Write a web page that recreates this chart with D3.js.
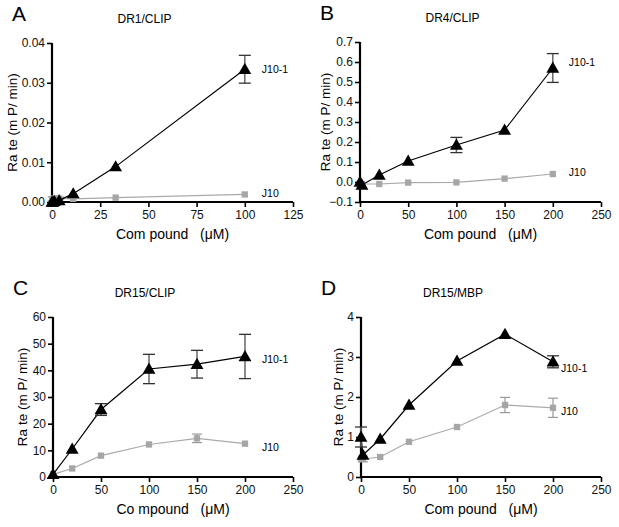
<!DOCTYPE html>
<html><head><meta charset="utf-8">
<script src="https://cdn.jsdelivr.net/npm/d3@7"></script>
<style>body{margin:0;background:#fff}svg{display:block}text{font-family:"Liberation Sans",Arial,sans-serif}</style>
</head><body><svg width="619" height="527"></svg>
<script>
// ---- data ----
const panelLetters = ["A","B","C","D"];
const panelTitles = ["DR1/CLIP","DR4/CLIP","DR15/CLIP","DR15/MBP"];
const xLabels = ["Com pound   (\u03bcM)","Com pound   (\u03bcM)","Co mpound   (\u03bcM)","Com pound   (\u03bcM)"];
const yLabel = "Ra te (m P/ min)";
const seriesNames = ["J10-1","J10"];

const xTicksA = [0,25,50,75,100,125];
const xTicksBCD = [0,50,100,150,200,250];
const yTicksA = [0,0.01,0.02,0.03,0.04];
const yTicksB = [-0.1,0,0.1,0.2,0.3,0.4,0.5,0.6,0.7];
const yTicksC = [0,10,20,30,40,50,60];
const yTicksD = [0,1,2,3,4];

// Panel A
const xA = [0,0.4,1.2,3.7,11,33,100];
const j101A = [0,0,0.0002,0.0004,0.0021,0.0089,0.0334];
const j101A_err = [0,0,0,0,0,0,0.0035];
const j10A = [0.0006,0.0008,0.0009,0.0009,0.0008,0.0011,0.0019];
const j10A_err = [0,0.0005,0,0.0003,0,0,0];

// Panel B
const xB = [0,2,20,50,100,150,200];
const j101B = [0,-0.015,0.035,0.105,0.185,0.26,0.57];
const j101B_err = [0,0,0,0,0.038,0,0.072];
const j10B = [-0.01,-0.01,-0.01,-0.003,-0.002,0.017,0.04];
const j10B_err = [0,0,0,0,0,0,0];

// Panel C
const xC = [0,20,50,100,150,200];
const j101C = [1,10.5,25.3,40.5,42.3,45.2];
const j101C_err = [0,0,2.2,5.5,5.2,8.3];
const j10C = [1,3.2,8,12.2,14.5,12.5];
const j10C_err = [0,0,0,0,1.6,0];

// Panel D
const xD = [0,2,20,50,100,150,200];
const j101D = [1.0,0.55,0.95,1.8,2.9,3.57,2.88];
const j101D_err = [0.25,0,0,0,0,0,0.15];
const j10D = [0.45,0.45,0.5,0.88,1.25,1.8,1.73];
const j10D_err = [0,0.07,0,0,0,0.19,0.24];

const panels = [
  {x:xA, s1:j101A, e1:j101A_err, s2:j10A, e2:j10A_err, xt:xTicksA, yt:yTicksA, xmax:125, yfmt:".2f",
   top:43, bottom:202, left:52, right:293, lab1:[17,0.0333], lab2:[17,0.0022], ylx:12},
  {x:xB, s1:j101B, e1:j101B_err, s2:j10B, e2:j10B_err, xt:xTicksBCD, yt:yTicksB, xmax:250, yfmt:".1f",
   top:42, bottom:202, left:360, right:601, lab1:[16,0.6], lab2:[16,0.05], ylx:325},
  {x:xC, s1:j101C, e1:j101C_err, s2:j10C, e2:j10C_err, xt:xTicksBCD, yt:yTicksC, xmax:250, yfmt:"d",
   top:317, bottom:477, left:53, right:293, lab1:[17,44], lab2:[17,11], ylx:22},
  {x:xD, s1:j101D, e1:j101D_err, s2:j10D, e2:j10D_err, xt:xTicksBCD, yt:yTicksD, xmax:250, yfmt:"d",
   top:317, bottom:477, left:361, right:601, lab1:[8,2.72], lab2:[8,1.65], ylx:338}
];
const yDomains = [[0,0.04],[-0.1,0.7],[0,60],[0,4]];

const svg = d3.select("svg");
const tri = d3.symbol().type(d3.symbolTriangle).size(72);
const sq = d3.symbol().type(d3.symbolSquare).size(40);

panels.forEach((p,i)=>{
  const g = svg.append("g");
  const xs = d3.scaleLinear().domain([0,p.xmax]).range([p.left,p.right]);
  const ys = d3.scaleLinear().domain(yDomains[i]).range([p.bottom,p.top]);

  const xa = g.append("g").attr("transform",`translate(0,${p.bottom})`)
    .call(d3.axisBottom(xs).tickValues(p.xt).tickSize(5).tickPadding(3).tickFormat(d3.format("d")));
  const ya = g.append("g").attr("transform",`translate(${p.left},0)`)
    .call(d3.axisLeft(ys).tickValues(p.yt).tickSize(5).tickPadding(2).tickFormat(d3.format(p.yfmt)));
  [xa,ya].forEach(a=>{
    a.select(".domain").attr("stroke","#000").attr("stroke-width",2.2);
    a.selectAll(".tick line").attr("stroke","#000").attr("stroke-width",1.6);
    a.selectAll(".tick text").attr("font-size",12).attr("fill","#111")
      .attr("font-family",'"Liberation Sans",Arial,sans-serif');
  });
  xa.select(".domain").attr("d",`M${p.left},0H${p.right}`);
  ya.select(".domain").attr("d",`M0,${p.bottom}V${p.top}`);

  g.append("text").attr("x",(p.left-40)).attr("y",p.top-22).attr("font-size",21).text(panelLetters[i]);
  g.append("text").attr("x",(p.left+p.right)/2-28).attr("y",p.top-20).attr("text-anchor","middle")
    .attr("font-size",12).text(panelTitles[i]);
  g.append("text").attr("x",(p.left+p.right)/2).attr("y",p.bottom+37).attr("text-anchor","middle")
    .attr("font-size",14).attr("xml:space","preserve").style("white-space","pre").text(xLabels[i]);
  g.append("text").attr("transform",`translate(${p.ylx},${(p.top+p.bottom)/2}) rotate(-90)`)
    .attr("text-anchor","middle").attr("dy","0.35em").attr("font-size",13.5).text(yLabel);

  const line = d3.line().x((d,j)=>xs(p.x[j])).y(d=>ys(d));
  const gs2 = g.append("g");
  gs2.append("path").attr("d",line(p.s2)).attr("fill","none").attr("stroke","#aaa").attr("stroke-width",1.2);
  p.s2.forEach((v,j)=>{
    const e=p.e2[j];
    if(e>0){
      const cx=xs(p.x[j]);
      gs2.append("line").attr("x1",cx).attr("x2",cx).attr("y1",ys(v-e)).attr("y2",ys(v+e)).attr("stroke","#999").attr("stroke-width",1.2);
      [v-e,v+e].forEach(w=>gs2.append("line").attr("x1",cx-5).attr("x2",cx+5).attr("y1",ys(w)).attr("y2",ys(w)).attr("stroke","#999").attr("stroke-width",1.2));
    }
  });
  gs2.selectAll("path.m").data(p.s2).join("path").attr("class","m")
    .attr("d",sq).attr("transform",(d,j)=>`translate(${xs(p.x[j])},${ys(d)})`).attr("fill","#a6a6a6");

  const gs1 = g.append("g");
  gs1.append("path").attr("d",line(p.s1)).attr("fill","none").attr("stroke","#000").attr("stroke-width",1.2);
  p.s1.forEach((v,j)=>{
    const e=p.e1[j];
    if(e>0){
      const cx=xs(p.x[j]);
      gs1.append("line").attr("x1",cx).attr("x2",cx).attr("y1",ys(v-e)).attr("y2",ys(v+e)).attr("stroke","#666").attr("stroke-width",1.5);
      [v-e,v+e].forEach(w=>gs1.append("line").attr("x1",cx-6).attr("x2",cx+6).attr("y1",ys(w)).attr("y2",ys(w)).attr("stroke","#333").attr("stroke-width",1.3));
    }
  });
  gs1.selectAll("path.m").data(p.s1).join("path").attr("class","m")
    .attr("d",tri).attr("transform",(d,j)=>`translate(${xs(p.x[j])},${ys(d)+1})`).attr("fill","#000");

  const lastX = xs(p.x[p.x.length-1]);
  g.append("text").attr("x",lastX+p.lab1[0]).attr("y",ys(p.lab1[1])).attr("dy","0.35em").attr("font-size",10.5).text(seriesNames[0]);
  g.append("text").attr("x",lastX+p.lab2[0]).attr("y",ys(p.lab2[1])).attr("dy","0.35em").attr("font-size",10.5).text(seriesNames[1]);
});
</script></body></html>
